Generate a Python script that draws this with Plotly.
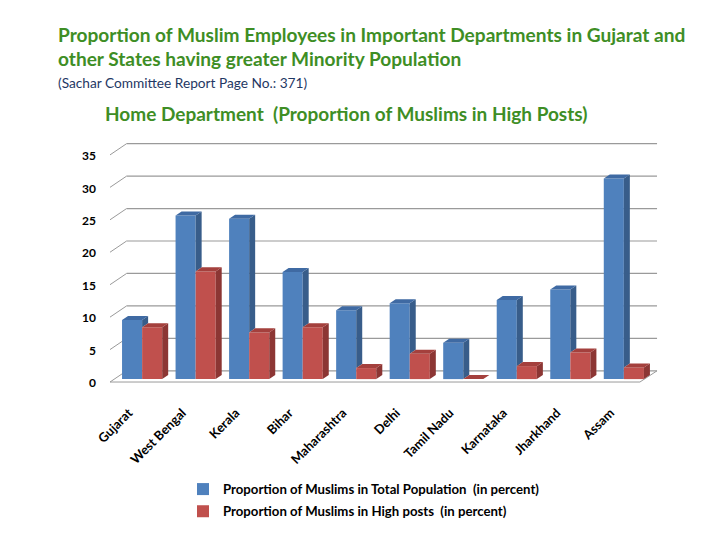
import plotly.graph_objects as go

states = ["Gujarat", "West Bengal", "Kerala", "Bihar", "Maharashtra", "Delhi",
          "Tamil Nadu", "Karnataka", "Jharkhand", "Assam"]
population = [9.1, 25.2, 24.7, 16.5, 10.6, 11.7, 5.6, 12.2, 13.8, 30.9]
high_posts = [8.0, 16.6, 7.2, 8.0, 1.7, 3.9, 0.0, 2.0, 4.1, 1.8]
y_ticks = [0, 5, 10, 15, 20, 25, 30, 35]

name_pop = "Proportion of Muslims in Total Population  (in percent)"
name_high = "Proportion of Muslims in High posts  (in percent)"

BLUE, BLUE_SIDE, BLUE_TOP = "#4F81BD", "#385D8A", "#3F6AA3"
RED, RED_SIDE, RED_TOP = "#C0504D", "#8C3634", "#A4403D"
GREEN = "#3E8E25"
FONT = "Lato"

OFF = 8  # page body margin in the browser
W, H = 728 - OFF, 546 - OFF
ML, MR, MT, MB = 110 - OFF, 64, 139 - OFF, 163
PW, PH = W - ML - MR, H - MT - MB

def px2paper(x, y):
    """screen pixel -> paper coords"""
    return (x - OFF - ML) / PW, (H - MB - (y - OFF)) / PH

n = len(states)
xs = list(range(n))
bw = 0.375            # bar width in category units
dx, dy = 0.112, 0.62  # bar depth offsets (data units)

fig = go.Figure()
fig.add_trace(go.Bar(x=xs, y=population, name=name_pop, legendgroup="a",
                     marker=dict(color=BLUE, line=dict(width=0)), offset=-bw, width=bw))
fig.add_trace(go.Bar(x=xs, y=high_posts, name=name_high, legendgroup="b",
                     marker=dict(color=RED, line=dict(width=0)), offset=0, width=bw))

def poly_trace(polys, color):
    px_, py_ = [], []
    for p in polys:
        for (a, b) in p:
            px_.append(a); py_.append(b)
        px_.append(p[0][0]); py_.append(p[0][1])
        px_.append(None); py_.append(None)
    return go.Scatter(x=px_, y=py_, fill="toself", fillcolor=color, mode="none",
                      showlegend=False, hoverinfo="skip")

blue_side, blue_top, red_side, red_top = [], [], [], []
for i, (b, r) in enumerate(zip(population, high_posts)):
    if b > r:
        blue_side.append([(i, r), (i + dx, r + dy), (i + dx, b + dy), (i, b)])
    blue_top.append([(i - bw, b), (i, b), (i + dx, b + dy), (i - bw + dx, b + dy)])
    red_side.append([(i + bw, 0), (i + bw + dx, dy), (i + bw + dx, r + dy), (i + bw, r)])
    red_top.append([(i, r), (i + bw, r), (i + bw + dx, r + dy), (i + dx, r + dy)])

fig.add_trace(poly_trace(blue_side, BLUE_SIDE))
fig.add_trace(poly_trace(blue_top, BLUE_TOP))
fig.add_trace(poly_trace(red_side, RED_SIDE))
fig.add_trace(poly_trace(red_top, RED_TOP))

# back wall grid, left-wall diagonals and floor
GRID = "#9A9A9A"
back_dy, front_dy = 1.28, -0.45
x_front_l, x_back_l, x_front_r, x_back_r = -0.6, -0.29, 9.3, 9.62
shapes = []
for v in y_ticks:
    shapes.append(dict(type="line", xref="x", yref="y", x0=x_back_l, x1=x_back_r,
                       y0=v + back_dy, y1=v + back_dy, line=dict(color=GRID, width=1.2), layer="below"))
    shapes.append(dict(type="line", xref="x", yref="y", x0=x_front_l, x1=x_back_l,
                       y0=v + front_dy, y1=v + back_dy, line=dict(color=GRID, width=1), layer="below"))
shapes.append(dict(type="line", xref="x", yref="y", x0=x_front_l, x1=x_front_r,
                   y0=front_dy, y1=front_dy, line=dict(color=GRID, width=1), layer="below"))
shapes.append(dict(type="line", xref="x", yref="y", x0=x_front_r, x1=x_back_r,
                   y0=front_dy, y1=back_dy, line=dict(color=GRID, width=1), layer="below"))

annotations = []
def add_text(text, x, y, size, color, bold=True, xanchor="left"):
    xp, yp = px2paper(x, y)
    annotations.append(dict(text=f"<b>{text}</b>" if bold else text, x=xp, y=yp,
                            xref="paper", yref="paper", xanchor=xanchor, yanchor="middle",
                            showarrow=False, font=dict(family=FONT, size=size, color=color)))

add_text("Proportion of Muslim Employees in Important Departments in Gujarat and", 56, 34, 19.1, GREEN)
add_text("other States having greater Minority Population", 56, 58.5, 19.1, GREEN)
add_text("(Sachar Committee Report Page No.: 371)", 56, 82, 13.7, "#1F3864", bold=False)
add_text("Home Department  (Proportion of Muslims in High Posts)", 346, 113, 19.0, GREEN, xanchor="center")

lx, ly = px2paper(183, 474)
fig.update_layout(
    width=W, height=H,
    margin=dict(l=ML, r=MR, t=MT, b=MB, autoexpand=False),
    paper_bgcolor="white", plot_bgcolor="white",
    barmode="overlay",
    font=dict(family=FONT, color="black"),
    showlegend=True,
    legend=dict(x=lx, y=ly, xanchor="left", yanchor="top",
                font=dict(family=FONT, size=13.2, color="black", weight="bold"),
                itemwidth=30, tracegroupgap=2, bgcolor="rgba(0,0,0,0)"),
    shapes=shapes,
    annotations=annotations,
    xaxis=dict(range=[-0.6, 9.75], tickmode="array", tickvals=[x - 0.25 for x in xs], ticktext=states,
               tickangle=-45, showgrid=False, zeroline=False, showline=False, ticks="", automargin=False,
               tickfont=dict(family=FONT, size=12.8, weight="bold"), ticklabelstandoff=19),
    yaxis=dict(range=[-0.6, 37], tickmode="array", tickvals=[v - 0.6 for v in y_ticks],
               ticktext=[str(v) for v in y_ticks], showgrid=False, automargin=False,
               zeroline=False, showline=False, ticks="",
               tickfont=dict(family=FONT, size=12, weight="bold"), ticklabelstandoff=13),
)

fig.write_html("out.html")
